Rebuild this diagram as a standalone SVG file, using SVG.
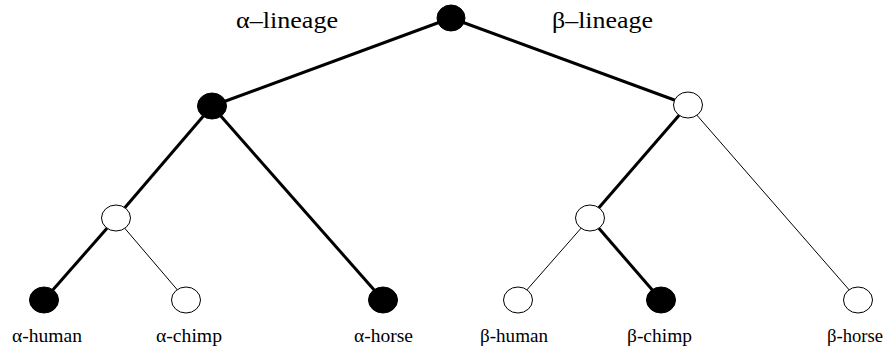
<svg xmlns="http://www.w3.org/2000/svg" width="883" height="348" viewBox="0 0 883 348">
<style>
.thick{stroke:#000;stroke-width:3;fill:none}
.thin{stroke:#000;stroke-width:1;fill:none}
.b{fill:#000;stroke:#000;stroke-width:1}
.w{fill:#fff;stroke:#000;stroke-width:1}
.lbl{font-family:"Liberation Serif","Times New Roman",serif;font-size:18px;fill:#000}
.top{font-family:"Liberation Serif","Times New Roman",serif;font-size:24px;fill:#000}
</style>
<rect width="883" height="348" fill="#fff"/>
<g id="connectors">
<line class="thick" x1="451" y1="18" x2="212" y2="106"/>
<line class="thick" x1="451" y1="18" x2="688" y2="105"/>
<line class="thick" x1="212" y1="106" x2="116" y2="218"/>
<line class="thick" x1="212" y1="106" x2="383" y2="300"/>
<line class="thick" x1="116" y1="218" x2="44" y2="300"/>
<line class="thin" x1="116" y1="218" x2="186" y2="300"/>
<line class="thick" x1="688" y1="105" x2="590" y2="218"/>
<line class="thin" x1="688" y1="105" x2="858" y2="300"/>
<line class="thin" x1="590" y1="218" x2="518" y2="300"/>
<line class="thick" x1="590" y1="218" x2="661" y2="300"/>
</g>
<g id="root"><ellipse class="b" cx="451" cy="18" rx="14" ry="13"/></g>
<g id="alpha"><ellipse class="b" cx="212" cy="106" rx="14.5" ry="13"/></g>
<g id="beta"><ellipse class="w" cx="688" cy="105" rx="14.5" ry="13"/></g>
<g id="alpha-sub"><ellipse class="w" cx="116" cy="218" rx="14.5" ry="13"/></g>
<g id="beta-sub"><ellipse class="w" cx="590" cy="218" rx="14.5" ry="13"/></g>
<g id="alpha-human"><ellipse class="b" cx="44" cy="300" rx="14.5" ry="13"/><text class="lbl" x="12" y="342" textLength="70" lengthAdjust="spacingAndGlyphs">α-human</text></g>
<g id="alpha-chimp"><ellipse class="w" cx="186" cy="300" rx="14.5" ry="13"/><text class="lbl" x="156" y="342" textLength="66" lengthAdjust="spacingAndGlyphs">α-chimp</text></g>
<g id="alpha-horse"><ellipse class="b" cx="383" cy="300" rx="14.5" ry="13"/><text class="lbl" x="354" y="342" textLength="59" lengthAdjust="spacingAndGlyphs">α-horse</text></g>
<g id="beta-human"><ellipse class="w" cx="518" cy="300" rx="14.5" ry="13"/><text class="lbl" x="480" y="342" textLength="68" lengthAdjust="spacingAndGlyphs">β-human</text></g>
<g id="beta-chimp"><ellipse class="b" cx="661" cy="300" rx="14.5" ry="13"/><text class="lbl" x="627" y="342" textLength="65" lengthAdjust="spacingAndGlyphs">β-chimp</text></g>
<g id="beta-horse"><ellipse class="w" cx="858" cy="300" rx="14.5" ry="13"/><text class="lbl" x="827" y="342" textLength="56" lengthAdjust="spacingAndGlyphs">β-horse</text></g>
<g id="lineage-labels">
<text class="top" x="236" y="28" textLength="102" lengthAdjust="spacingAndGlyphs">α–lineage</text>
<text class="top" x="552" y="28" textLength="101" lengthAdjust="spacingAndGlyphs">β–lineage</text>
</g>
</svg>
